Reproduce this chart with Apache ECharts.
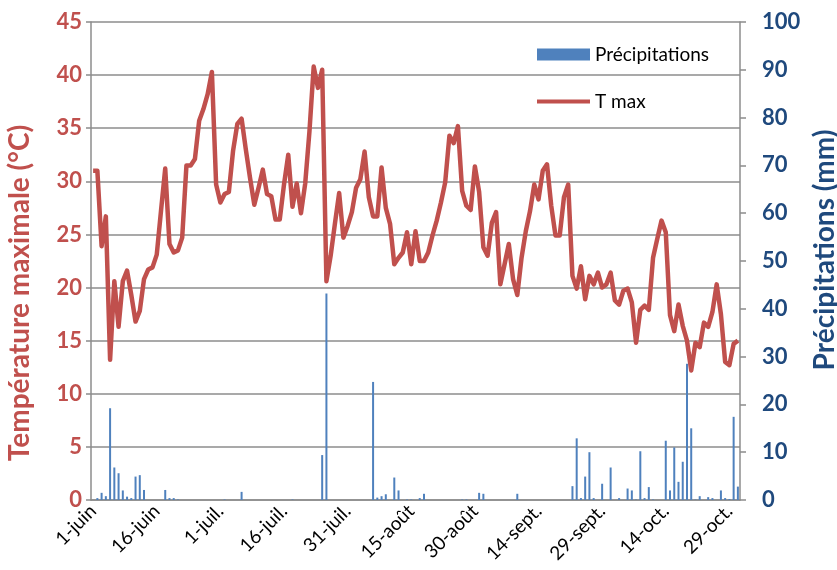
<!DOCTYPE html>
<html>
<head>
<meta charset="utf-8">
<script src="https://cdn.jsdelivr.net/npm/echarts@6/dist/echarts.min.js"></script>
<style>
  html, body { margin: 0; padding: 0; background: #fff; }
  #main { width: 837px; height: 570px; }
</style>
</head>
<body>
<div id="main"></div>
<script>
// mois de la période (nom, nombre de jours)
var months = [['juin', 30], ['juil.', 31], ['août', 31], ['sept.', 30], ['oct.', 31]];

// température maximale journalière (°C), 1-juin -> 31-oct.
var tmax = [
  31.0, 31.0, 23.9, 26.7, 13.2, 20.6, 16.3, 20.6, 21.6, 19.3,
  16.8, 17.8, 20.8, 21.7, 21.9, 23.1, 27.2, 31.2, 24.1, 23.3,
  23.5, 24.7, 31.5, 31.5, 32.1, 35.7, 36.8, 38.2, 40.3, 29.7,
  28.0, 28.8, 29.0, 32.9, 35.4, 35.9, 33.0, 30.3, 27.8, 29.4,
  31.1, 28.8, 28.6, 26.4, 26.4, 29.7, 32.5, 27.6, 29.8, 27.0,
  29.8, 34.7, 40.8, 38.8, 40.5, 20.6, 23.0, 26.0, 28.9, 24.7,
  25.8, 27.1, 29.4, 30.2, 32.8, 28.5, 26.7, 26.7, 31.3, 27.5,
  26.0, 22.2, 22.8, 23.3, 25.2, 22.2, 25.3, 22.5, 22.5, 23.3,
  24.9, 26.3, 28.0, 29.9, 34.3, 33.6, 35.2, 29.1, 27.7, 27.3,
  31.4, 29.0, 23.8, 23.0, 26.1, 27.1, 20.3, 22.2, 24.1, 20.8,
  19.3, 22.8, 25.3, 27.2, 29.7, 28.3, 31.0, 31.6, 27.7, 24.9,
  24.9, 28.5, 29.7, 21.1, 19.9, 22.0, 18.9, 21.1, 20.3, 21.4,
  20.0, 20.3, 21.4, 18.8, 18.4, 19.7, 19.9, 18.6, 14.8, 17.9,
  18.3, 17.9, 22.8, 24.6, 26.3, 25.2, 17.4, 15.9, 18.4, 16.4,
  15.0, 12.2, 14.8, 14.4, 16.7, 16.3, 17.7, 20.3, 17.5, 13.0,
  12.7, 14.7, 15.0
];

// précipitations journalières (mm)
var precip = [
  0, 0.4, 1.5, 0.8, 19.2, 6.8, 5.6, 2.0, 0.7, 0.4,
  4.9, 5.2, 2.1, 0, 0, 0, 0, 2.1, 0.4, 0.4,
  0.1, 0, 0, 0, 0, 0, 0, 0, 0, 0,
  0, 0.1, 0, 0, 0, 1.7, 0, 0, 0, 0,
  0, 0, 0, 0, 0, 0, 0, 0.1, 0, 0,
  0, 0, 0, 0, 9.4, 43.2, 0, 0, 0, 0,
  0, 0, 0, 0, 0, 0, 24.7, 0.5, 0.8, 1.2,
  0, 4.7, 2.0, 0, 0.1, 0.1, 0, 0.4, 1.3, 0,
  0, 0, 0, 0, 0, 0, 0, 0.1, 0.1, 0,
  0, 1.5, 1.3, 0, 0, 0, 0, 0, 0, 0,
  1.3, 0, 0, 0, 0, 0, 0, 0, 0, 0,
  0, 0, 0, 2.9, 12.9, 0.4, 4.9, 10.0, 0.4, 0,
  3.4, 0, 6.8, 0, 0.4, 0, 2.4, 2.0, 0.1, 10.2,
  0.4, 2.7, 0.1, 0, 0, 12.4, 2.0, 11.0, 3.8, 8.0,
  28.5, 15.0, 0.1, 0.8, 0, 0.6, 0.4, 0, 2.0, 0.4,
  0.2, 17.4, 2.8
];

// étiquettes des jours : "1-juin", "2-juin", ...
var days = [];
months.forEach(function (m) {
  for (var d = 1; d <= m[1]; d++) {
    days.push(d + '-' + m[0]);
  }
});

var RED = '#C0504D';
var BLUE = '#1F497D';
var BAR = '#4F81BD';
var GRID = '#8C8C8C';
var FONT = 'Lato';

var myChart = echarts.init(document.getElementById('main'));

var option = {
  animation: false,
  textStyle: { fontFamily: FONT },
  grid: { left: 91, right: 97, top: 22, bottom: 70, outerBoundsMode: 'none', containLabel: false },
  legend: {
    orient: 'vertical',
    left: 532,
    top: 40,
    itemWidth: 53,
    itemHeight: 12,
    itemGap: 28,
    textStyle: { fontFamily: FONT, fontSize: 19, color: '#000' },
    data: [
      { name: 'Précipitations', icon: 'rect', itemStyle: { color: BAR } },
      { name: 'T max', icon: 'path://M0,0 M0,4 L53,4 L53,8 L0,8 Z M53,12', itemStyle: { color: RED } }
    ]
  },
  xAxis: {
    type: 'category',
    data: days,
    boundaryGap: true,
    axisLine: { lineStyle: { color: GRID, width: 1.5 } },
    axisTick: { interval: 14, length: 7, lineStyle: { color: GRID, width: 1.5 } },
    axisLabel: {
      interval: 14,
      rotate: 45,
      margin: 8,
      fontSize: 19,
      color: '#000',
      fontFamily: FONT
    }
  },
  yAxis: [{
    type: 'value',
    min: 0,
    max: 45,
    interval: 5,
    name: 'Température maximale (°C)',
    nameLocation: 'middle',
    nameGap: 57,
    nameTextStyle: {
      color: RED, fontSize: 28, fontWeight: 'bold', fontFamily: FONT,
      padding: [0, 64, 0, 0]
    },
    axisLine: { show: true, lineStyle: { color: GRID, width: 1.5 } },
    axisTick: { show: true, length: 5, lineStyle: { color: GRID, width: 1.5 } },
    axisLabel: { color: RED, fontSize: 22, fontWeight: 'bold', margin: 9, fontFamily: FONT },
    splitLine: { lineStyle: { color: GRID, width: 1.5 } }
  }, {
    type: 'value',
    min: 0,
    max: 100,
    interval: 10,
    name: 'Précipitations (mm)',
    nameLocation: 'middle',
    nameGap: 60,
    nameTextStyle: {
      color: BLUE, fontSize: 28, fontWeight: 'bold', fontFamily: FONT,
      padding: [0, 0, 0, 22]
    },
    axisLine: { show: true, lineStyle: { color: GRID, width: 1.5 } },
    axisTick: { show: true, length: 6, lineStyle: { color: GRID, width: 1.5 } },
    axisLabel: { color: BLUE, fontSize: 22, fontWeight: 'bold', margin: 22, fontFamily: FONT },
    splitLine: { show: false }
  }],
  series: [{
    name: 'Précipitations',
    type: 'bar',
    yAxisIndex: 1,
    barWidth: 2,
    itemStyle: { color: BAR },
    data: precip
  }, {
    name: 'T max',
    type: 'line',
    yAxisIndex: 0,
    symbol: 'none',
    itemStyle: { color: RED },
    lineStyle: { color: RED, width: 4.5, join: 'round' },
    data: tmax
  }]
};

myChart.setOption(option);
</script>
</body>
</html>
